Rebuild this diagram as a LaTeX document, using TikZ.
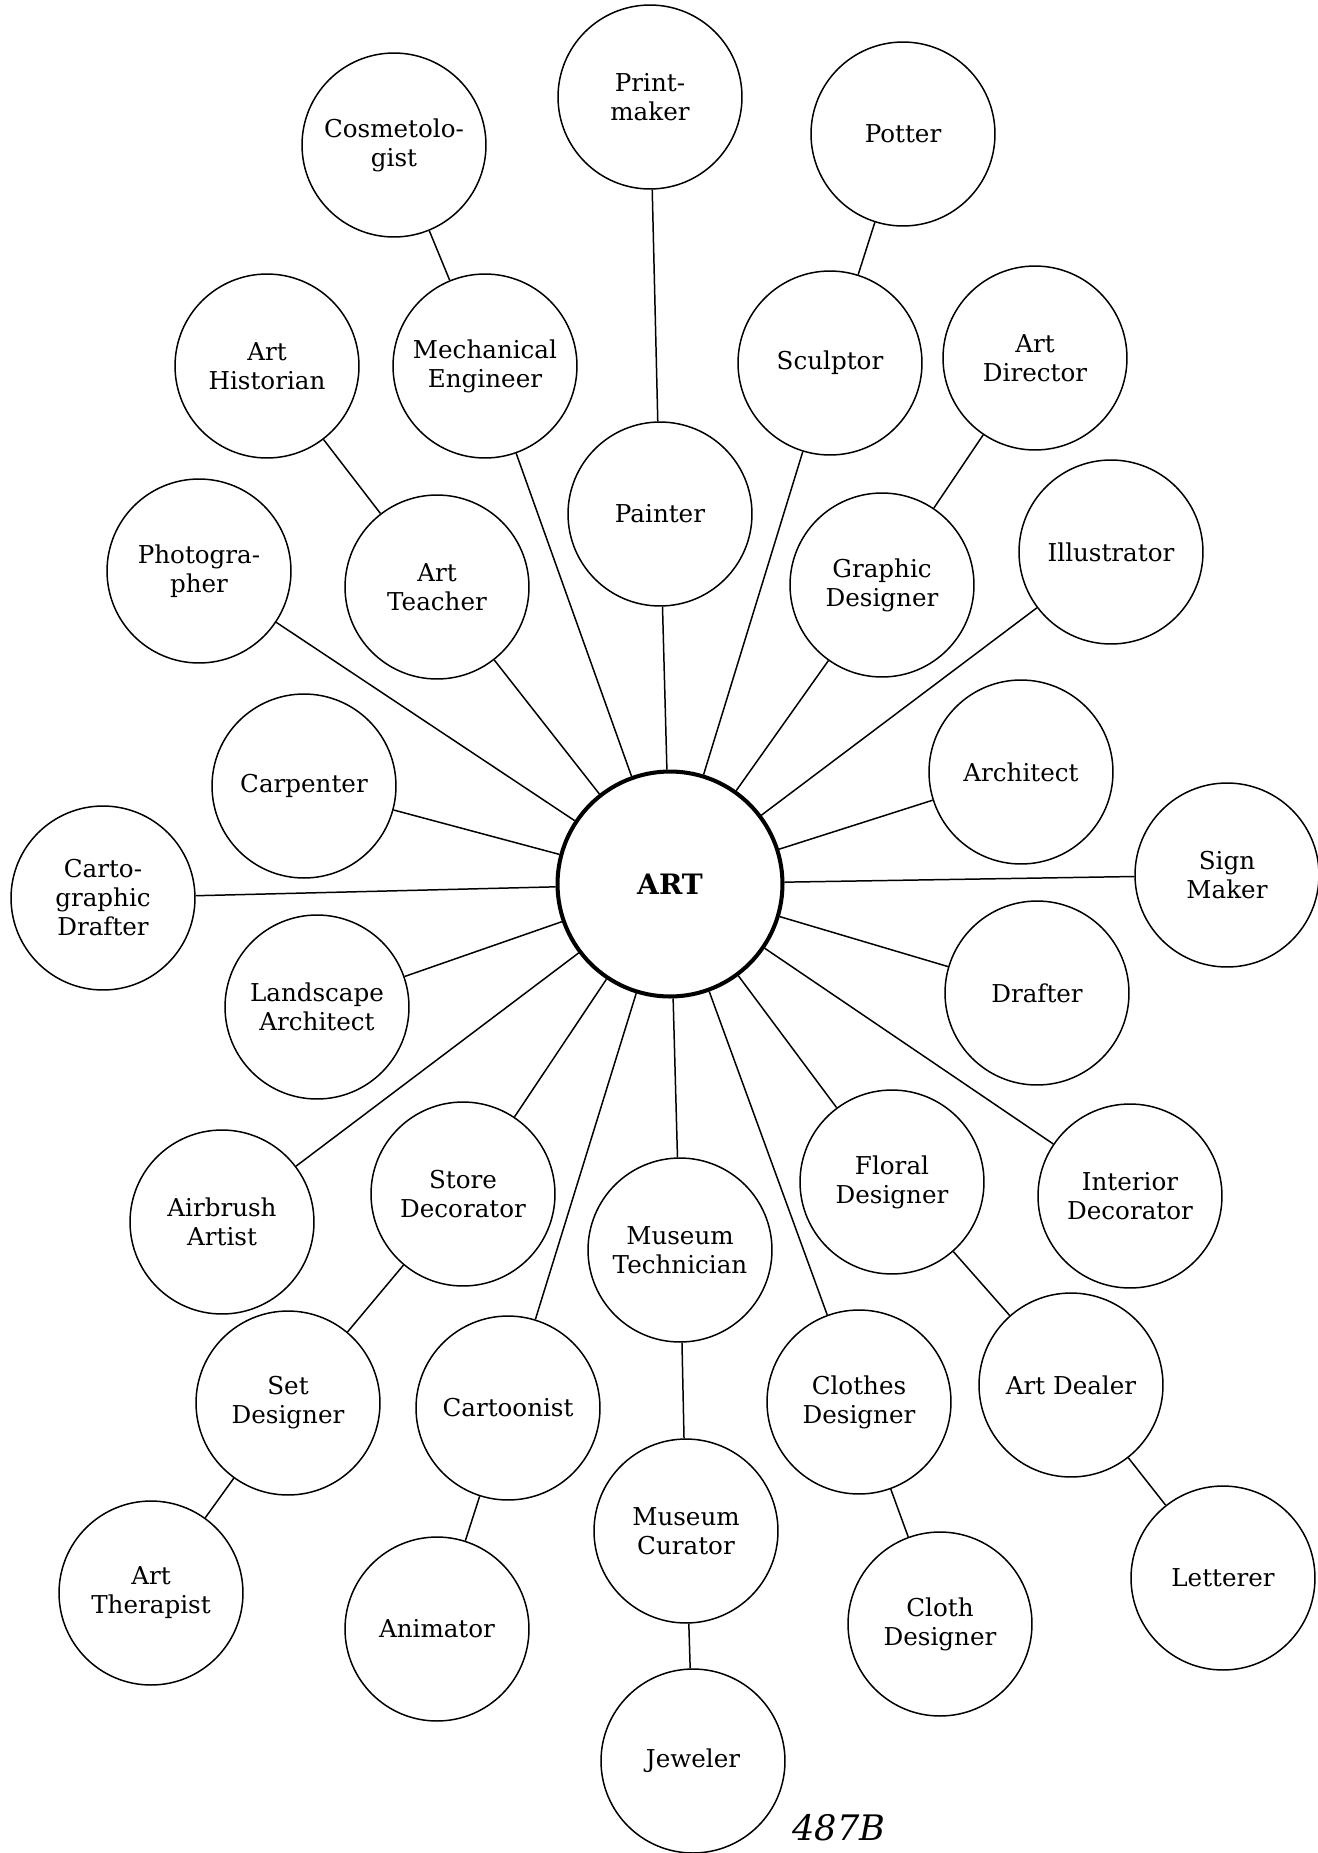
\documentclass[tikz,border=0pt]{standalone}
\usepackage{fontspec}
\setmainfont{DejaVu Serif}
\begin{document}
\begin{tikzpicture}[x=0.02cm,y=-0.02cm,
  job/.style={circle,draw,line width=0.85pt,minimum size=3.68cm,inner sep=0pt,
    align=center,font=\fontsize{14}{16.5}\selectfont},
  hub/.style={circle,draw,line width=2.3pt,minimum size=4.5cm,inner sep=0pt,
    font=\fontsize{16}{19}\selectfont\bfseries},
  link/.style={line width=0.85pt}]
\useasboundingbox (0,0) rectangle (1318,1853);

% central subject
\node[hub] (art) at (670,884) {ART};

% surrounding careers
\node[job] (printmaker) at (650,97) {Print-\\maker};
\node[job] (potter) at (903,134) {Potter};
\node[job] (cosmo) at (394,145) {Cosmetolo-\\gist};
\node[job] (mech) at (485,366) {Mechanical\\Engineer};
\node[job] (sculptor) at (830,363) {Sculptor};
\node[job] (artdir) at (1035,358) {Art\\Director};
\node[job] (historian) at (267,366) {Art\\Historian};
\node[job] (painter) at (660,514) {Painter};
\node[job] (graphic) at (882,585) {Graphic\\Designer};
\node[job] (illustrator) at (1111,552) {Illustrator};
\node[job] (photo) at (199,571) {Photogra-\\pher};
\node[job] (teacher) at (437,587) {Art\\Teacher};
\node[job] (carpenter) at (304,786) {Carpenter};
\node[job] (architect) at (1021,772) {Architect};
\node[job] (sign) at (1227,875) {Sign\\Maker};
\node[job] (carto) at (103,898) {Carto-\\graphic\\Drafter};
\node[job] (landscape) at (317,1007) {Landscape\\Architect};
\node[job] (drafter) at (1037,993) {Drafter};
\node[job] (floral) at (892,1182) {Floral\\Designer};
\node[job] (interior) at (1130,1196) {Interior\\Decorator};
\node[job] (airbrush) at (222,1222) {Airbrush\\Artist};
\node[job] (store) at (463,1194) {Store\\Decorator};
\node[job] (mtech) at (680,1250) {Museum\\Technician};
\node[job] (set) at (288,1403) {Set\\Designer};
\node[job] (cartoonist) at (508,1408) {Cartoonist};
\node[job] (clothes) at (859,1402) {Clothes\\Designer};
\node[job] (dealer) at (1071,1385) {Art Dealer};
\node[job] (therapist) at (151,1593) {Art\\Therapist};
\node[job] (animator) at (437,1629) {Animator};
\node[job] (curator) at (686,1531) {Museum\\Curator};
\node[job] (cloth) at (940,1624) {Cloth\\Designer};
\node[job] (letterer) at (1223,1578) {Letterer};
\node[job] (jeweler) at (693,1761) {Jeweler};

% spokes from the hub
\foreach \n in {mech,painter,sculptor,graphic,illustrator,photo,teacher,carpenter,
  architect,sign,carto,landscape,drafter,airbrush,store,mtech,cartoonist,clothes,
  floral,interior}
  \draw[link] (art) -- (\n);

% second-level links
\draw[link] (printmaker) -- (painter);
\draw[link] (cosmo) -- (mech);
\draw[link] (potter) -- (sculptor);
\draw[link] (artdir) -- (graphic);
\draw[link] (historian) -- (teacher);
\draw[link] (store) -- (set);
\draw[link] (set) -- (therapist);
\draw[link] (cartoonist) -- (animator);
\draw[link] (mtech) -- (curator);
\draw[link] (curator) -- (jeweler);
\draw[link] (clothes) -- (cloth);
\draw[link] (floral) -- (dealer);
\draw[link] (dealer) -- (letterer);

% page mark
\node[font=\fontsize{20}{22}\selectfont\itshape] (mark) at (839,1828) {487B};
\end{tikzpicture}
\end{document}
